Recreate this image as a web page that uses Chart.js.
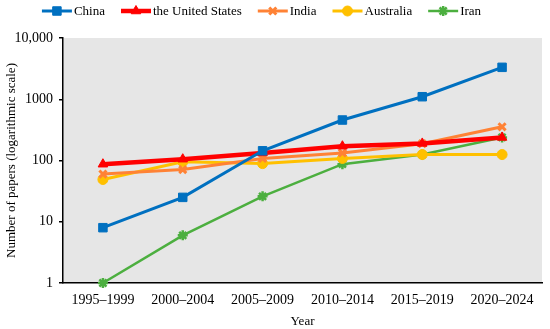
<!DOCTYPE html>
<html><head><meta charset="utf-8">
<script src="https://cdn.jsdelivr.net/npm/chart.js@4/dist/chart.umd.min.js"></script>
<style>html,body{margin:0;padding:0;background:#fff}#wrap{width:550px;height:329px}</style>
</head><body><div id="wrap"><canvas id="c" width="550" height="329"></canvas></div>
<script>
const categories = ['1995–1999','2000–2004','2005–2009','2010–2014','2015–2019','2020–2024'];
const seriesNames = ['China','the United States','India','Australia','Iran'];
const china = [8, 25, 144, 458, 1100, 3320];
const unitedStates = [87, 105, 133, 171, 190, 238];
const india = [60, 71, 108, 133, 188, 355];
const australia = [49, 95, 89, 108, 125, 125];
const iran = [1, 6, 26, 87, 125, 238];
const yTicks = [1, 10, 100, 1000, 10000];
const yTickLabels = ['1', '10', '100', '1000', '10,000'];

const FONT = "'Liberation Serif', 'Times New Roman', serif";
const styles = [
  {color:'#0070C0', width:3,   point:'rect',     radius:6,   pbw:1},
  {color:'#FF0000', width:4.5, point:'triangle', radius:5.5, pbw:1},
  {color:'#FF8235', width:3,   point:'crossRot', radius:5,   pbw:3},
  {color:'#FFC000', width:3,   point:'circle',   radius:5,   pbw:1},
  {color:'#4CAF3F', width:2.5, point:'star',     radius:5,   pbw:2.5}
];
const values = [china, unitedStates, india, australia, iran];

const datasets = values.map((v,i)=>({
  label: seriesNames[i],
  data: v,
  borderColor: styles[i].color,
  backgroundColor: styles[i].color,
  borderWidth: styles[i].width,
  pointStyle: styles[i].point,
  pointRadius: styles[i].radius,
  pointHoverRadius: styles[i].radius,
  pointBorderWidth: styles[i].pbw,
  pointBackgroundColor: styles[i].color,
  pointBorderColor: styles[i].color,
  tension: 0,
  clip: false
}));

const bgPlugin = {
  id:'bg',
  beforeDraw(chart){
    const {ctx, chartArea:a} = chart;
    ctx.save(); ctx.fillStyle = '#E6E6E6';
    ctx.fillRect(a.left, a.top, a.right - a.left, a.bottom - a.top);
    ctx.restore();
  }
};

const legendPlugin = {
  id:'customLegend',
  afterDraw(chart){
    const ctx = chart.ctx;
    ctx.save();
    ctx.font = '13px ' + FONT;
    const lineW = 30, gapText = 2, gapItem = 16;
    const widths = seriesNames.map(n => lineW + gapText + ctx.measureText(n).width);
    const total = widths.reduce((a,b)=>a+b,0) + gapItem*(widths.length-1);
    let x = 261.5 - total/2;
    const y = 11;
    seriesNames.forEach((n,i)=>{
      const s = styles[i];
      ctx.strokeStyle = s.color; ctx.lineWidth = s.width;
      ctx.beginPath(); ctx.moveTo(x, y); ctx.lineTo(x+lineW, y); ctx.stroke();
      ctx.fillStyle = s.color; ctx.strokeStyle = s.color; ctx.lineWidth = s.pbw;
      Chart.helpers.drawPoint(ctx, {pointStyle:s.point, radius:s.radius, borderWidth:s.pbw, rotation:0}, x+lineW/2, y);
      ctx.fillStyle = '#000'; ctx.textBaseline = 'middle'; ctx.textAlign = 'left';
      ctx.fillText(n, x + lineW + gapText, y + 1);
      x += widths[i] + gapItem;
    });
    ctx.restore();
  }
};

new Chart(document.getElementById('c'), {
  type:'line',
  data:{labels:categories, datasets},
  plugins:[bgPlugin, legendPlugin],
  options:{
    responsive:false,
    animation:false,
    layout:{padding:{top:38, right:6, left:0, bottom:0}},
    plugins:{legend:{display:false}, tooltip:{enabled:false}},
    scales:{
      x:{
        type:'category',
        offset:true,
        grid:{display:false, drawTicks:false},
        border:{display:true, color:'#000', width:1.5},
        ticks:{color:'#000', font:{family:FONT, size:14}, padding:9, maxRotation:0, autoSkip:false},
        title:{display:true, text:'Year', color:'#000', font:{family:FONT, size:13}, padding:{top:2, bottom:0}},
        afterFit(s){ s.height = 46; }
      },
      y:{
        type:'logarithmic',
        min:1, max:10000,
        afterBuildTicks(s){ s.ticks = yTicks.map(v=>({value:v})); },
        grid:{display:true, drawOnChartArea:false, drawTicks:true, tickLength:4, color:'#000', tickColor:'#000', lineWidth:1.5},
        border:{display:true, color:'#000', width:1.5},
        ticks:{color:'#000', font:{family:FONT, size:14}, padding:6,
          callback(v){ const i = yTicks.indexOf(v); return i>=0 ? yTickLabels[i] : ''; }},
        title:{display:true, text:'Number of papers (logarithmic scale)', color:'#000', font:{family:FONT, size:13}, padding:{top:4, bottom:0}},
        afterFit(s){ s.width = 63; }
      }
    }
  }
});
</script>
</body></html>
